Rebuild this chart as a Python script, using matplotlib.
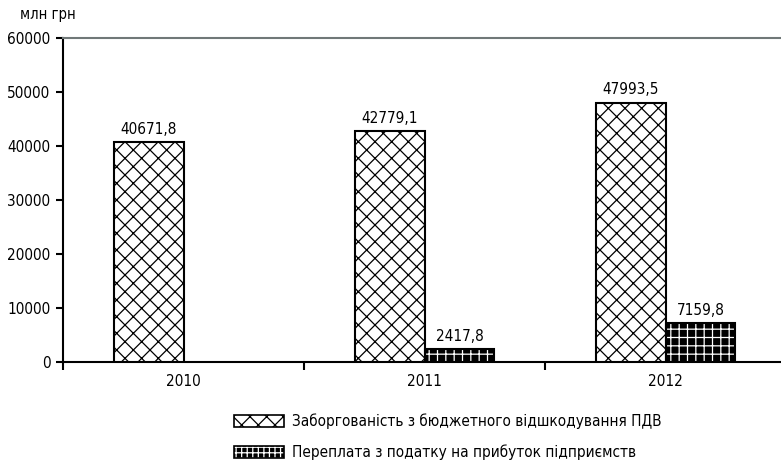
import numpy as np
import matplotlib.pyplot as plt
from matplotlib.patches import Patch

# Data
years = ['2010', '2011', '2012']
vat_debt = [40671.8, 42779.1, 47993.5]
profit_overpay = [np.nan, 2417.8, 7159.8]
vat_labels = ['40671,8', '42779,1', '47993,5']
overpay_labels = ['', '2417,8', '7159,8']
series_names = ['Заборгованість з бюджетного відшкодування ПДВ',
                'Переплата з податку на прибуток підприємств']

plt.rcParams['font.family'] = ['DejaVu Sans']
plt.rcParams['font.stretch'] = 'condensed'
plt.rcParams['hatch.linewidth'] = 0.9

fig = plt.figure(figsize=(7.81, 4.68), dpi=100)
ax = fig.add_axes([63 / 781, 106 / 468, 723 / 781, 324 / 468])

x = np.arange(len(years))
w = 0.29
fs = 11

ax.bar(x - w / 2, vat_debt, w, facecolor='white', edgecolor='black',
       hatch='xx', linewidth=1.5, zorder=3)

# squares pattern: black fill with white grid lines, then black outline
ax.bar(x + w / 2, profit_overpay, w, facecolor='black', edgecolor='white',
       hatch='++', linewidth=0, zorder=3)
ax.bar(x + w / 2, profit_overpay, w, fill=False, edgecolor='black',
       linewidth=1.5, zorder=4)

for xi, v, t in zip(x, vat_debt, vat_labels):
    ax.text(xi - w / 2, v + 1000, t, ha='center', va='bottom', fontsize=fs)
for xi, v, t in zip(x, profit_overpay, overpay_labels):
    if t:
        ax.text(xi + w / 2, v + 1000, t, ha='center', va='bottom', fontsize=fs)

ax.set_xlim(-0.5, 2.5)
ax.set_ylim(0, 60000)
ax.set_yticks(np.arange(0, 60001, 10000))
ax.tick_params(axis='y', labelsize=fs, length=5, width=1.5, pad=4)

ax.set_xticks([0, 1, 2])
ax.set_xticklabels(years, fontsize=fs)
ax.tick_params(axis='x', length=0, pad=9)
ax.set_xticks([-0.5, 0.5, 1.5], minor=True)
ax.tick_params(axis='x', which='minor', length=6, width=1.5)

for s in ['left', 'bottom']:
    ax.spines[s].set_linewidth(1.5)
ax.spines['top'].set_color('#707878')
ax.spines['top'].set_linewidth(1.5)
ax.spines['right'].set_visible(False)

fig.text(20 / 781, 1 - 15 / 468, 'млн грн', fontsize=10.5, ha='left', va='center')

# legend handles
h1 = Patch(facecolor='white', edgecolor='black', hatch='xx', linewidth=1.2)
h2a = Patch(facecolor='black', edgecolor='white', hatch='+++', linewidth=0)
h2b = Patch(fill=False, edgecolor='black', linewidth=1.2)
fig.legend([h1, (h2a, h2b)], series_names, loc='center left',
           bbox_to_anchor=(220 / 781, 1 - 437 / 468), frameon=False,
           fontsize=fs, handlelength=3.3, handleheight=0.9,
           handletextpad=0.5, labelspacing=1.0)

plt.savefig('out.png', dpi=100)
